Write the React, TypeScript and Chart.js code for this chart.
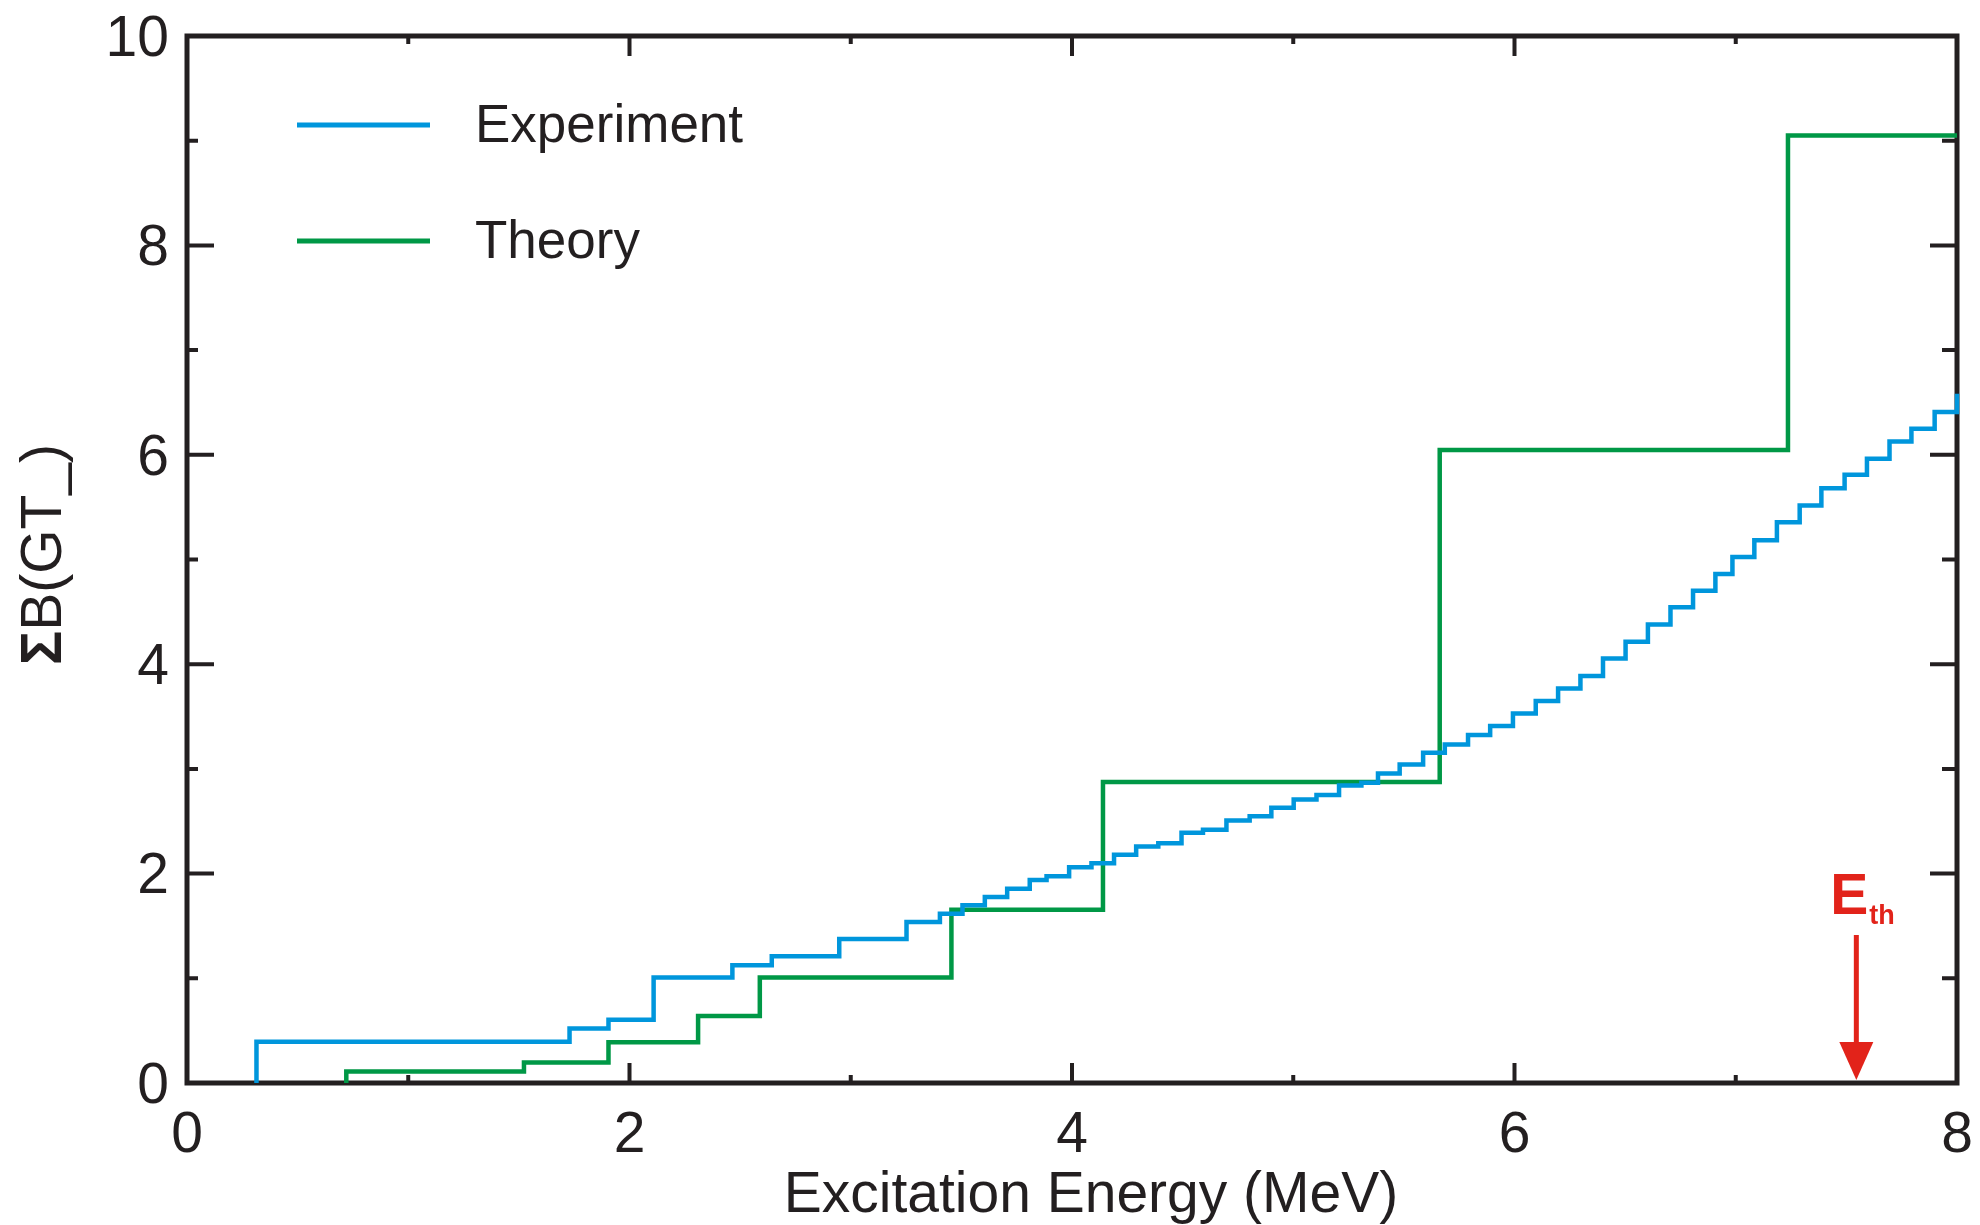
import React, { useEffect, useRef } from 'react';
import { Chart, registerables } from 'chart.js';

Chart.register(...registerables);

// Experiment: excitation energy (MeV) where the cumulative sum steps, and the value after the step
const expEnergy = [
  0.314, 1.729, 1.905, 2.109, 2.465, 2.643, 2.948, 3.252, 3.403, 3.505, 3.606, 3.707, 3.809, 3.885,
  3.987, 4.088, 4.19, 4.29, 4.39, 4.495, 4.592, 4.698, 4.803, 4.901, 5.002, 5.105, 5.207, 5.308,
  5.383, 5.481, 5.587, 5.685, 5.79, 5.89, 5.993, 6.096, 6.197, 6.298, 6.4, 6.502, 6.603, 6.705,
  6.807, 6.908, 6.985, 7.084, 7.186, 7.289, 7.387, 7.492, 7.593, 7.695, 7.794, 7.899, 8.0,
];
const expSum = [
  0.395, 0.52, 0.603, 1.008, 1.125, 1.21, 1.375, 1.538, 1.617, 1.697, 1.777, 1.856, 1.94, 1.975,
  2.06, 2.1, 2.18, 2.26, 2.29, 2.39, 2.42, 2.507, 2.548, 2.628, 2.708, 2.75, 2.842, 2.868,
  2.957, 3.043, 3.155, 3.234, 3.324, 3.41, 3.528, 3.649, 3.767, 3.888, 4.054, 4.214, 4.378, 4.543,
  4.702, 4.861, 5.025, 5.185, 5.356, 5.515, 5.68, 5.809, 5.962, 6.127, 6.249, 6.409, 6.584,
];

// Theory
const theoEnergy = [0.72, 1.523, 1.905, 2.31, 2.589, 3.455, 4.14, 5.662, 7.236];
const theoSum = [0.11, 0.195, 0.39, 0.64, 1.008, 1.655, 2.874, 6.045, 9.05];

const xTickValues = [0, 1, 2, 3, 4, 5, 6, 7, 8];
const xTickLabels = ['0', '', '2', '', '4', '', '6', '', '8'];
const yTickValues = [0, 1, 2, 3, 4, 5, 6, 7, 8, 9, 10];
const yTickLabels = ['0', '', '2', '', '4', '', '6', '', '8', '', '10'];

const seriesNames = ['Experiment', 'Theory'];
const seriesColors = ['#0096dc', '#009846'];
const thresholdEnergy = 7.545;

const INK = '#231f20';
const RED = '#e2231a';
const FONT = '"Liberation Sans", Arial, sans-serif';

function stepPoints(xs: number[], ys: number[], xEnd?: number) {
  const pts = [{ x: xs[0], y: 0 }];
  xs.forEach((x, i) => pts.push({ x, y: ys[i] }));
  if (xEnd !== undefined) pts.push({ x: xEnd, y: ys[ys.length - 1] });
  return pts;
}

const decorPlugin = {
  id: 'decor',
  beforeDatasetsDraw(chart: any) {
    const { ctx, chartArea: a, scales } = chart;
    const xs = scales.x;
    const ys = scales.y;
    ctx.save();
    // Frame
    ctx.strokeStyle = INK;
    ctx.lineWidth = 5;
    ctx.lineCap = 'butt';
    ctx.strokeRect(a.left, a.top, a.right - a.left, a.bottom - a.top);

    // Ticks (inside)
    ctx.lineWidth = 4;
    ctx.beginPath();
    xTickValues.forEach((v, i) => {
      const px = xs.getPixelForValue(v);
      const len = xTickLabels[i] !== '' ? 20 : 8;
      ctx.moveTo(px, a.bottom);
      ctx.lineTo(px, a.bottom - len);
      ctx.moveTo(px, a.top);
      ctx.lineTo(px, a.top + len);
    });
    yTickValues.forEach((v, i) => {
      const py = ys.getPixelForValue(v);
      const major = yTickLabels[i] !== '';
      ctx.moveTo(a.left, py);
      ctx.lineTo(a.left + (major ? 27 : 11), py);
      ctx.moveTo(a.right, py);
      ctx.lineTo(a.right - (major ? 27 : 15), py);
    });
    ctx.stroke();
    ctx.restore();
  },
  afterDatasetsDraw(chart: any) {
    const { ctx, chartArea: a, scales } = chart;
    const xs = scales.x;
    const ys = scales.y;
    ctx.save();

    // Tick labels
    ctx.fillStyle = INK;
    ctx.font = `57px ${FONT}`;
    ctx.textAlign = 'center';
    ctx.textBaseline = 'alphabetic';
    xTickValues.forEach((v, i) => {
      if (!xTickLabels[i]) return;
      ctx.fillText(xTickLabels[i], xs.getPixelForValue(v), a.bottom + 69);
    });
    ctx.textAlign = 'right';
    ctx.textBaseline = 'middle';
    yTickValues.forEach((v, i) => {
      if (!yTickLabels[i]) return;
      ctx.fillText(yTickLabels[i], a.left - 18, ys.getPixelForValue(v) + 4);
    });

    // X title
    ctx.textAlign = 'center';
    ctx.textBaseline = 'alphabetic';
    ctx.font = `57px ${FONT}`;
    ctx.fillText('Excitation Energy (MeV)', 1091, a.bottom + 129);

    // Y title (rotated), bold sigma
    ctx.save();
    ctx.translate(61, (a.top + a.bottom) / 2 - 5);
    ctx.rotate(-Math.PI / 2);
    ctx.textAlign = 'left';
    ctx.textBaseline = 'alphabetic';
    const boldF = `bold 57px ${FONT}`;
    const normF = `57px ${FONT}`;
    ctx.font = boldF;
    const w1 = ctx.measureText('Σ').width;
    ctx.font = normF;
    const w2 = ctx.measureText('B(GT_)').width;
    const start = -(w1 + w2) / 2;
    ctx.font = boldF;
    ctx.fillText('Σ', start, 0);
    ctx.font = normF;
    ctx.fillText('B(GT_)', start + w1, 0);
    ctx.restore();

    // Legend
    ctx.lineWidth = 5;
    ctx.font = `53px ${FONT}`;
    ctx.textAlign = 'left';
    ctx.textBaseline = 'alphabetic';
    const legendY = [125, 241];
    seriesNames.forEach((name, i) => {
      ctx.strokeStyle = seriesColors[i];
      ctx.beginPath();
      ctx.moveTo(a.left + 110, legendY[i]);
      ctx.lineTo(a.left + 243, legendY[i]);
      ctx.stroke();
      ctx.fillStyle = INK;
      ctx.fillText(name, a.left + 288, legendY[i] + 17);
    });

    // Threshold arrow
    const ax = xs.getPixelForValue(thresholdEnergy);
    ctx.strokeStyle = RED;
    ctx.fillStyle = RED;
    ctx.lineWidth = 5;
    ctx.beginPath();
    ctx.moveTo(ax, 935);
    ctx.lineTo(ax, 1050);
    ctx.stroke();
    ctx.beginPath();
    ctx.moveTo(ax - 17, 1042);
    ctx.lineTo(ax + 17, 1042);
    ctx.lineTo(ax, a.bottom - 3);
    ctx.closePath();
    ctx.fill();
    ctx.font = `bold 57px ${FONT}`;
    ctx.textAlign = 'left';
    ctx.fillText('E', ax - 26, 914);
    const wE = ctx.measureText('E').width;
    ctx.font = `bold 27px ${FONT}`;
    ctx.fillText('th', ax - 26 + wE + 1, 924);

    ctx.restore();
  },
};

export default function App() {
  const ref = useRef<HTMLCanvasElement | null>(null);
  useEffect(() => {
    if (!ref.current) return;
    const chart = new Chart(ref.current, {
      type: 'line',
      data: {
        datasets: [
          {
            label: seriesNames[0],
            data: stepPoints(expEnergy, expSum),
            borderColor: seriesColors[0],
            borderWidth: 4.5,
            stepped: 'before',
            pointRadius: 0,
            fill: false,
            clip: 4,
          },
          {
            label: seriesNames[1],
            data: stepPoints(theoEnergy, theoSum, 8),
            borderColor: seriesColors[1],
            borderWidth: 4.5,
            stepped: 'before',
            pointRadius: 0,
            fill: false,
          },
        ],
      },
      options: {
        responsive: false,
        animation: false,
        layout: { padding: { left: 187, right: 23, top: 36, bottom: 142 } },
        plugins: { legend: { display: false }, tooltip: { enabled: false }, title: { display: false } },
        scales: {
          x: { type: 'linear', min: 0, max: 8, display: false },
          y: { type: 'linear', min: 0, max: 10, display: false },
        },
      },
      plugins: [decorPlugin],
    });
    return () => chart.destroy();
  }, []);
  return (
    <div style={{ position: 'fixed', left: 0, top: 0, width: 1980, height: 1225, background: '#fff' }}>
      <canvas ref={ref} width={1980} height={1225} style={{ display: 'block' }} />
    </div>
  );
}
